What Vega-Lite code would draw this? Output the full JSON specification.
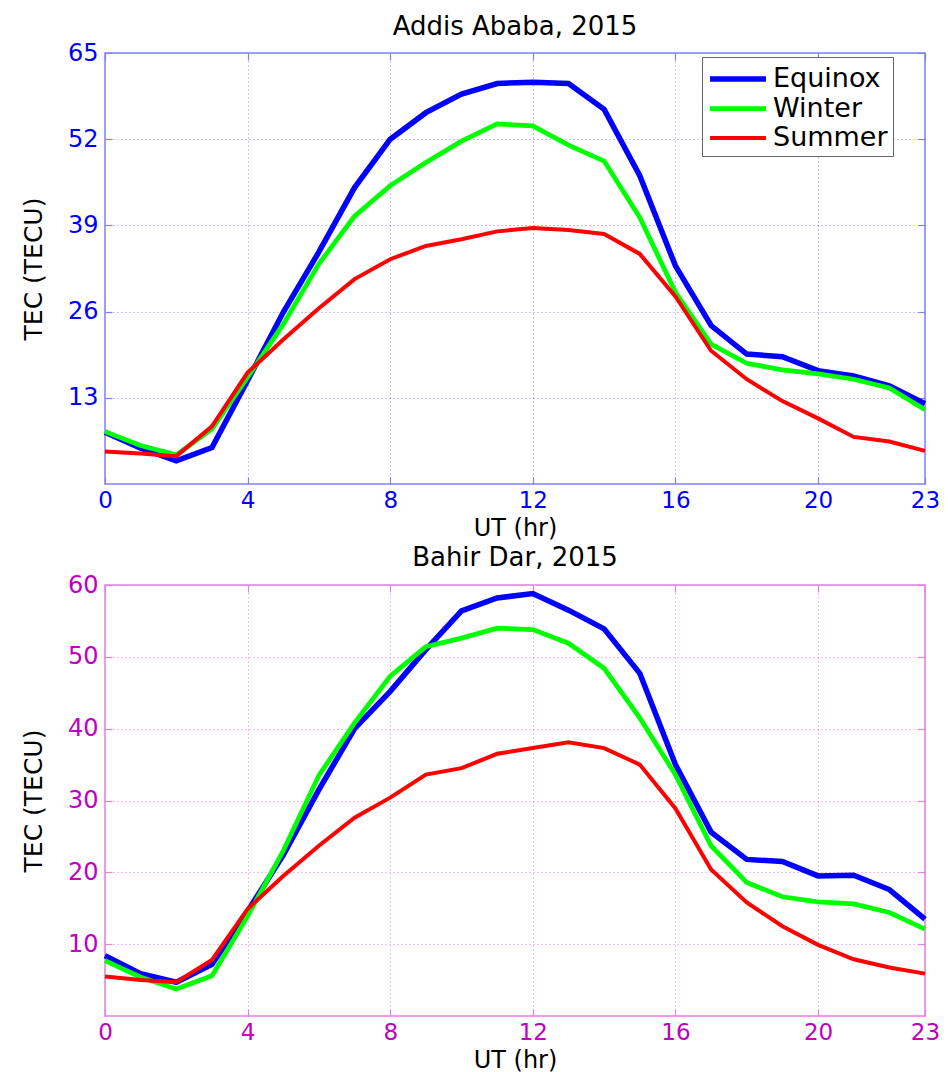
{
  "$schema": "https://vega.github.io/schema/vega-lite/v6.json",
  "background": "white",
  "padding": {"left": 20, "top": 13, "right": 5, "bottom": 5},
  "bounds": "flush",
  "spacing": 101,
  "config": {
    "font": "DejaVu Sans",
    "view": {"strokeWidth": 0},
    "title": {"fontSize": 26, "fontWeight": "normal", "color": "black", "baseline": "alphabetic", "frame": "group", "anchor": "middle"},
    "legend": {
      "orient": "none",
      "title": null,
      "symbolType": "M-2,0H2",
      "symbolSize": 784,
      "symbolOffset": 14,
      "symbolStrokeWidth": 5,
      "labelFontSize": 27,
      "labelColor": "black",
      "labelOffset": 18,
      "strokeColor": "#666666",
      "fillColor": "white",
      "padding": 5,
      "rowPadding": -1.5
    }
  },
  "datasets": {
    "addis": [
      {"hour": 0, "season": "Equinox", "tec": 7.8}, {"hour": 1, "season": "Equinox", "tec": 5.4}, {"hour": 2, "season": "Equinox", "tec": 3.5}, {"hour": 3, "season": "Equinox", "tec": 5.5},
      {"hour": 4, "season": "Equinox", "tec": 15.6}, {"hour": 5, "season": "Equinox", "tec": 25.9}, {"hour": 6, "season": "Equinox", "tec": 35.0}, {"hour": 7, "season": "Equinox", "tec": 44.7},
      {"hour": 8, "season": "Equinox", "tec": 52.0}, {"hour": 9, "season": "Equinox", "tec": 56.0}, {"hour": 10, "season": "Equinox", "tec": 58.8}, {"hour": 11, "season": "Equinox", "tec": 60.4},
      {"hour": 12, "season": "Equinox", "tec": 60.6}, {"hour": 13, "season": "Equinox", "tec": 60.4}, {"hour": 14, "season": "Equinox", "tec": 56.5}, {"hour": 15, "season": "Equinox", "tec": 46.5},
      {"hour": 16, "season": "Equinox", "tec": 32.9}, {"hour": 17, "season": "Equinox", "tec": 23.9}, {"hour": 18, "season": "Equinox", "tec": 19.6}, {"hour": 19, "season": "Equinox", "tec": 19.2},
      {"hour": 20, "season": "Equinox", "tec": 17.1}, {"hour": 21, "season": "Equinox", "tec": 16.3}, {"hour": 22, "season": "Equinox", "tec": 14.8}, {"hour": 23, "season": "Equinox", "tec": 12.1},
      {"hour": 0, "season": "Winter", "tec": 7.9}, {"hour": 1, "season": "Winter", "tec": 5.8}, {"hour": 2, "season": "Winter", "tec": 4.4}, {"hour": 3, "season": "Winter", "tec": 8.3},
      {"hour": 4, "season": "Winter", "tec": 16.1}, {"hour": 5, "season": "Winter", "tec": 24.1}, {"hour": 6, "season": "Winter", "tec": 33.2}, {"hour": 7, "season": "Winter", "tec": 40.4},
      {"hour": 8, "season": "Winter", "tec": 45.0}, {"hour": 9, "season": "Winter", "tec": 48.5}, {"hour": 10, "season": "Winter", "tec": 51.7}, {"hour": 11, "season": "Winter", "tec": 54.3},
      {"hour": 12, "season": "Winter", "tec": 54.0}, {"hour": 13, "season": "Winter", "tec": 51.1}, {"hour": 14, "season": "Winter", "tec": 48.7}, {"hour": 15, "season": "Winter", "tec": 40.2},
      {"hour": 16, "season": "Winter", "tec": 28.9}, {"hour": 17, "season": "Winter", "tec": 21.1}, {"hour": 18, "season": "Winter", "tec": 18.2}, {"hour": 19, "season": "Winter", "tec": 17.2},
      {"hour": 20, "season": "Winter", "tec": 16.6}, {"hour": 21, "season": "Winter", "tec": 15.8}, {"hour": 22, "season": "Winter", "tec": 14.5}, {"hour": 23, "season": "Winter", "tec": 11.2},
      {"hour": 0, "season": "Summer", "tec": 4.9}, {"hour": 1, "season": "Summer", "tec": 4.6}, {"hour": 2, "season": "Summer", "tec": 4.2}, {"hour": 3, "season": "Summer", "tec": 8.7},
      {"hour": 4, "season": "Summer", "tec": 16.8}, {"hour": 5, "season": "Summer", "tec": 21.8}, {"hour": 6, "season": "Summer", "tec": 26.5}, {"hour": 7, "season": "Summer", "tec": 30.9},
      {"hour": 8, "season": "Summer", "tec": 33.9}, {"hour": 9, "season": "Summer", "tec": 35.9}, {"hour": 10, "season": "Summer", "tec": 36.9}, {"hour": 11, "season": "Summer", "tec": 38.1},
      {"hour": 12, "season": "Summer", "tec": 38.6}, {"hour": 13, "season": "Summer", "tec": 38.3}, {"hour": 14, "season": "Summer", "tec": 37.7}, {"hour": 15, "season": "Summer", "tec": 34.7},
      {"hour": 16, "season": "Summer", "tec": 28.3}, {"hour": 17, "season": "Summer", "tec": 20.1}, {"hour": 18, "season": "Summer", "tec": 15.8}, {"hour": 19, "season": "Summer", "tec": 12.5},
      {"hour": 20, "season": "Summer", "tec": 9.9}, {"hour": 21, "season": "Summer", "tec": 7.1}, {"hour": 22, "season": "Summer", "tec": 6.4}, {"hour": 23, "season": "Summer", "tec": 5.0}
    ],
    "bahir": [
      {"hour": 0, "season": "Equinox", "tec": 8.4}, {"hour": 1, "season": "Equinox", "tec": 5.9}, {"hour": 2, "season": "Equinox", "tec": 4.7}, {"hour": 3, "season": "Equinox", "tec": 7.2},
      {"hour": 4, "season": "Equinox", "tec": 14.6}, {"hour": 5, "season": "Equinox", "tec": 22.4}, {"hour": 6, "season": "Equinox", "tec": 31.5}, {"hour": 7, "season": "Equinox", "tec": 40.0},
      {"hour": 8, "season": "Equinox", "tec": 45.2}, {"hour": 9, "season": "Equinox", "tec": 51.0}, {"hour": 10, "season": "Equinox", "tec": 56.4}, {"hour": 11, "season": "Equinox", "tec": 58.2},
      {"hour": 12, "season": "Equinox", "tec": 58.8}, {"hour": 13, "season": "Equinox", "tec": 56.5}, {"hour": 14, "season": "Equinox", "tec": 53.9}, {"hour": 15, "season": "Equinox", "tec": 47.7},
      {"hour": 16, "season": "Equinox", "tec": 35.0}, {"hour": 17, "season": "Equinox", "tec": 25.6}, {"hour": 18, "season": "Equinox", "tec": 21.8}, {"hour": 19, "season": "Equinox", "tec": 21.5},
      {"hour": 20, "season": "Equinox", "tec": 19.5}, {"hour": 21, "season": "Equinox", "tec": 19.6}, {"hour": 22, "season": "Equinox", "tec": 17.6}, {"hour": 23, "season": "Equinox", "tec": 13.5},
      {"hour": 0, "season": "Winter", "tec": 7.7}, {"hour": 1, "season": "Winter", "tec": 5.4}, {"hour": 2, "season": "Winter", "tec": 3.75}, {"hour": 3, "season": "Winter", "tec": 5.6},
      {"hour": 4, "season": "Winter", "tec": 13.9}, {"hour": 5, "season": "Winter", "tec": 23.0}, {"hour": 6, "season": "Winter", "tec": 33.5}, {"hour": 7, "season": "Winter", "tec": 40.8},
      {"hour": 8, "season": "Winter", "tec": 47.3}, {"hour": 9, "season": "Winter", "tec": 51.4}, {"hour": 10, "season": "Winter", "tec": 52.6}, {"hour": 11, "season": "Winter", "tec": 54.0},
      {"hour": 12, "season": "Winter", "tec": 53.8}, {"hour": 13, "season": "Winter", "tec": 51.9}, {"hour": 14, "season": "Winter", "tec": 48.4}, {"hour": 15, "season": "Winter", "tec": 41.5},
      {"hour": 16, "season": "Winter", "tec": 33.6}, {"hour": 17, "season": "Winter", "tec": 23.7}, {"hour": 18, "season": "Winter", "tec": 18.6}, {"hour": 19, "season": "Winter", "tec": 16.6},
      {"hour": 20, "season": "Winter", "tec": 15.9}, {"hour": 21, "season": "Winter", "tec": 15.6}, {"hour": 22, "season": "Winter", "tec": 14.4}, {"hour": 23, "season": "Winter", "tec": 12.1},
      {"hour": 0, "season": "Summer", "tec": 5.5}, {"hour": 1, "season": "Summer", "tec": 5.0}, {"hour": 2, "season": "Summer", "tec": 4.7}, {"hour": 3, "season": "Summer", "tec": 7.8},
      {"hour": 4, "season": "Summer", "tec": 14.9}, {"hour": 5, "season": "Summer", "tec": 19.5}, {"hour": 6, "season": "Summer", "tec": 23.7}, {"hour": 7, "season": "Summer", "tec": 27.6},
      {"hour": 8, "season": "Summer", "tec": 30.4}, {"hour": 9, "season": "Summer", "tec": 33.6}, {"hour": 10, "season": "Summer", "tec": 34.5}, {"hour": 11, "season": "Summer", "tec": 36.5},
      {"hour": 12, "season": "Summer", "tec": 37.3}, {"hour": 13, "season": "Summer", "tec": 38.1}, {"hour": 14, "season": "Summer", "tec": 37.3}, {"hour": 15, "season": "Summer", "tec": 35.0},
      {"hour": 16, "season": "Summer", "tec": 28.9}, {"hour": 17, "season": "Summer", "tec": 20.4}, {"hour": 18, "season": "Summer", "tec": 15.8}, {"hour": 19, "season": "Summer", "tec": 12.5},
      {"hour": 20, "season": "Summer", "tec": 9.9}, {"hour": 21, "season": "Summer", "tec": 7.9}, {"hour": 22, "season": "Summer", "tec": 6.75}, {"hour": 23, "season": "Summer", "tec": 5.9}
    ]
  },
  "vconcat": [
    {
      "width": 820,
      "height": 431,
      "data": {"name": "addis"},
      "title": {"text": "Addis Ababa, 2015", "offset": 1},
      "view": {"stroke": "#8080ff", "strokeWidth": 1.5},
      "resolve": {"axis": {"x": "independent", "y": "independent"}},
      "layer": [
        {
          "mark": {"type": "line"},
          "encoding": {
            "x": {"field": "hour", "type": "quantitative", "scale": {"domain": [0, 23], "nice": false, "zero": false},
              "axis": {"orient": "bottom", "values": [0, 4, 8, 12, 16, 20, 23], "format": "d", "title": "UT (hr)",
                "titleFontSize": 24, "titleFontWeight": "normal", "titleColor": "black", "titleX": 410, "titleY": 51.2, "titleBaseline": "alphabetic", "titleAlign": "center", "titleAnchor": null,
                "labelColor": "#0000ff", "labelFontSize": 23, "labelBaseline": "alphabetic", "labelPadding": 30, "labelFlush": false, "labelOverlap": false,
                "domain": false, "ticks": true, "tickSize": -7, "tickColor": "#8080ff", "tickWidth": 1.2,
                "grid": true, "gridColor": "#8c8cff", "gridDash": [1, 3], "gridWidth": 1}},
            "y": {"field": "tec", "type": "quantitative", "scale": {"domain": [0, 65], "nice": false},
              "axis": {"orient": "left", "values": [13, 26, 39, 52, 65], "title": "TEC (TECU)",
                "titleFontSize": 25, "titleFontWeight": "normal", "titleColor": "black", "titleX": -64, "titleY": 215.5, "titleAngle": -90, "titleBaseline": "alphabetic", "titleAlign": "center", "titleAnchor": null,
                "labelColor": "#0000ff", "labelFontSize": 24, "labelBaseline": "middle", "labelPadding": 14, "labelFlush": false, "labelOverlap": false,
                "domain": false, "ticks": true, "tickSize": -7, "tickColor": "#8080ff", "tickWidth": 1.2,
                "grid": true, "gridColor": "#8c8cff", "gridDash": [1, 3], "gridWidth": 1}},
            "color": {"field": "season", "type": "nominal",
              "scale": {"domain": ["Equinox", "Winter", "Summer"], "range": ["#0000ff", "#00ff00", "#ff0000"]},
              "legend": {"legendX": 597, "legendY": 4}},
            "strokeWidth": {"field": "season", "type": "nominal", "scale": {"domain": ["Equinox", "Winter", "Summer"], "range": [5.5, 4, 4]}, "legend": null}
          }
        },
        {
          "mark": {"type": "point", "opacity": 0, "size": 0},
          "encoding": {
            "x": {"field": "hour", "type": "quantitative",
              "axis": {"orient": "top", "values": [0, 4, 8, 12, 16, 20, 23], "labels": false, "title": null, "domain": false, "grid": false, "tickSize": -7, "tickColor": "#8080ff", "tickWidth": 1.2}},
            "y": {"field": "tec", "type": "quantitative",
              "axis": {"orient": "right", "values": [13, 26, 39, 52, 65], "labels": false, "title": null, "domain": false, "grid": false, "tickSize": -7, "tickColor": "#8080ff", "tickWidth": 1.2}}
          }
        }
      ]
    },
    {
      "width": 820,
      "height": 431,
      "data": {"name": "bahir"},
      "title": {"text": "Bahir Dar, 2015", "offset": 2},
      "view": {"stroke": "#e080e0", "strokeWidth": 1.5},
      "resolve": {"axis": {"x": "independent", "y": "independent"}},
      "layer": [
        {
          "mark": {"type": "line"},
          "encoding": {
            "x": {"field": "hour", "type": "quantitative", "scale": {"domain": [0, 23], "nice": false, "zero": false},
              "axis": {"orient": "bottom", "values": [0, 4, 8, 12, 16, 20, 23], "format": "d", "title": "UT (hr)",
                "titleFontSize": 24, "titleFontWeight": "normal", "titleColor": "black", "titleX": 410, "titleY": 51.2, "titleBaseline": "alphabetic", "titleAlign": "center", "titleAnchor": null,
                "labelColor": "#c000c0", "labelFontSize": 23, "labelBaseline": "alphabetic", "labelPadding": 30, "labelFlush": false, "labelOverlap": false,
                "domain": false, "ticks": true, "tickSize": -7, "tickColor": "#e080e0", "tickWidth": 1.2,
                "grid": true, "gridColor": "#e080e0", "gridDash": [1, 3], "gridWidth": 1}},
            "y": {"field": "tec", "type": "quantitative", "scale": {"domain": [0, 60], "nice": false},
              "axis": {"orient": "left", "values": [10, 20, 30, 40, 50, 60], "title": "TEC (TECU)",
                "titleFontSize": 25, "titleFontWeight": "normal", "titleColor": "black", "titleX": -64, "titleY": 215.5, "titleAngle": -90, "titleBaseline": "alphabetic", "titleAlign": "center", "titleAnchor": null,
                "labelColor": "#c000c0", "labelFontSize": 24, "labelBaseline": "middle", "labelPadding": 14, "labelFlush": false, "labelOverlap": false,
                "domain": false, "ticks": true, "tickSize": -7, "tickColor": "#e080e0", "tickWidth": 1.2,
                "grid": true, "gridColor": "#e080e0", "gridDash": [1, 3], "gridWidth": 1}},
            "color": {"field": "season", "type": "nominal",
              "scale": {"domain": ["Equinox", "Winter", "Summer"], "range": ["#0000ff", "#00ff00", "#ff0000"]},
              "legend": {"legendX": 597, "legendY": 4}},
            "strokeWidth": {"field": "season", "type": "nominal", "scale": {"domain": ["Equinox", "Winter", "Summer"], "range": [5.5, 4, 4]}, "legend": null}
          }
        },
        {
          "mark": {"type": "point", "opacity": 0, "size": 0},
          "encoding": {
            "x": {"field": "hour", "type": "quantitative",
              "axis": {"orient": "top", "values": [0, 4, 8, 12, 16, 20, 23], "labels": false, "title": null, "domain": false, "grid": false, "tickSize": -7, "tickColor": "#e080e0", "tickWidth": 1.2}},
            "y": {"field": "tec", "type": "quantitative",
              "axis": {"orient": "right", "values": [10, 20, 30, 40, 50, 60], "labels": false, "title": null, "domain": false, "grid": false, "tickSize": -7, "tickColor": "#e080e0", "tickWidth": 1.2}}
          }
        }
      ]
    }
  ]
}
